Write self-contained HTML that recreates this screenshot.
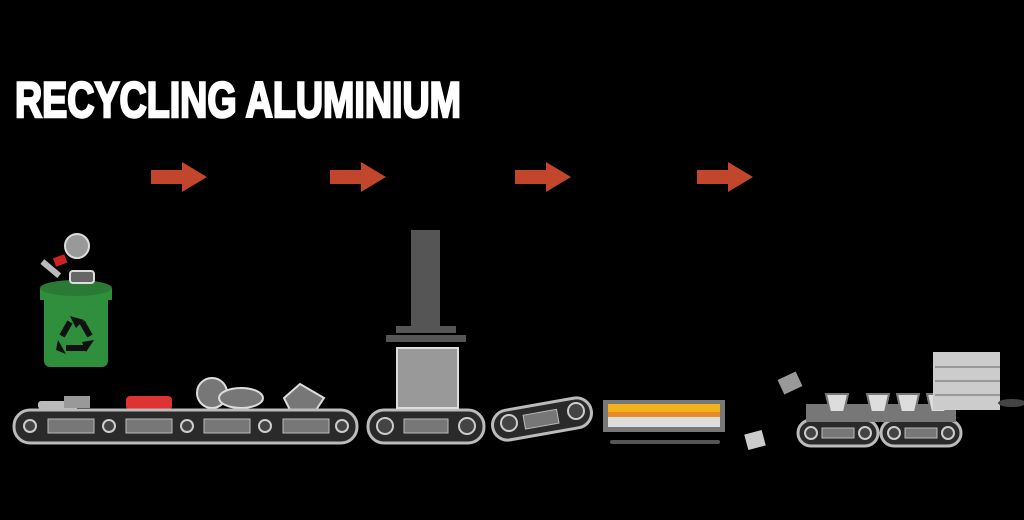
<!DOCTYPE html>
<html><head><style>
html,body{margin:0;padding:0;background:#000;width:1024px;height:520px;overflow:hidden}
</style></head><body>
<svg width="1024" height="520" viewBox="0 0 1024 520" xmlns="http://www.w3.org/2000/svg">
<rect width="1024" height="520" fill="#000"/>
<text x="15" y="117" font-family="Liberation Sans, sans-serif" font-weight="bold" font-size="50" fill="#fff" stroke="#fff" stroke-width="2.5" textLength="446" lengthAdjust="spacingAndGlyphs">RECYCLING ALUMINIUM</text>
<g fill="#c1462b">
<polygon points="151,170 182,170 182,162 207,177 182,192 182,184 151,184"/>
<polygon points="330,170 361,170 361,162 386,177 361,192 361,184 330,184"/>
<polygon points="515,170 546,170 546,162 571,177 546,192 546,184 515,184"/>
<polygon points="697,170 728,170 728,162 753,177 728,192 728,184 697,184"/>
</g>
<!-- bin -->
<rect x="44" y="295" width="64" height="72" rx="6" fill="#2f8f3c"/>
<rect x="40" y="288" width="72" height="12" fill="#2f8f3c"/>
<ellipse cx="76" cy="288" rx="36" ry="8" fill="#2a7a35"/>
<g fill="none" stroke="#111" stroke-width="6">
<path d="M70,322 L62,336"/><path d="M82,322 L90,336"/><path d="M66,348 L86,348"/>
</g>
<g fill="#111">
<polygon points="70,316 84,320 76,328"/><polygon points="94,340 86,352 82,342"/><polygon points="58,340 66,354 56,350"/>
</g>
<circle cx="77" cy="246" r="12" fill="#999" stroke="#ddd" stroke-width="2"/>
<rect x="54" y="256" width="12" height="9" fill="#c22" transform="rotate(-20 60 260)"/>
<rect x="40" y="265" width="22" height="6" fill="#bbb" transform="rotate(40 50 268)"/>
<rect x="70" y="271" width="24" height="12" rx="3" fill="#666" stroke="#ddd" stroke-width="2"/>
<!-- items on conveyor -->
<rect x="38" y="401" width="40" height="8" rx="3" fill="#bbb"/>
<rect x="64" y="396" width="26" height="12" fill="#999"/>
<rect x="126" y="396" width="46" height="14" rx="4" fill="#d33"/>
<circle cx="212" cy="393" r="15" fill="#777" stroke="#ddd" stroke-width="2"/>
<ellipse cx="241" cy="398" rx="22" ry="10" fill="#777" stroke="#ddd" stroke-width="2"/>
<polygon points="284,398 300,384 324,398 316,410 290,410" fill="#777" stroke="#ddd" stroke-width="2"/>
<!-- conveyors -->
<g fill="#2a2a2a" stroke="#bbb" stroke-width="3">
<rect x="14" y="410" width="343" height="33" rx="16"/>
<rect x="368" y="410" width="116" height="33" rx="16"/>
<rect x="492" y="404" width="100" height="30" rx="15" transform="rotate(-10 542 419)"/>
<rect x="798" y="420" width="80" height="26" rx="13"/>
<rect x="881" y="420" width="80" height="26" rx="13"/>
</g>
<g fill="#777" stroke="#bbb" stroke-width="1">
<rect x="48" y="419" width="46" height="14"/><rect x="126" y="419" width="46" height="14"/>
<rect x="204" y="419" width="46" height="14"/><rect x="283" y="419" width="46" height="14"/>
<rect x="404" y="419" width="44" height="14"/>
<rect x="524" y="412" width="34" height="14" transform="rotate(-10 542 419)"/>
<rect x="822" y="428" width="32" height="10"/><rect x="905" y="428" width="32" height="10"/>
</g>
<g fill="#444" stroke="#ccc" stroke-width="2">
<circle cx="30" cy="426" r="6"/><circle cx="109" cy="426" r="6"/><circle cx="187" cy="426" r="6"/>
<circle cx="265" cy="426" r="6"/><circle cx="342" cy="426" r="6"/>
<circle cx="385" cy="426" r="8"/><circle cx="467" cy="426" r="8"/>
<circle cx="509" cy="423" r="8"/><circle cx="576" cy="411" r="8"/>
<circle cx="811" cy="433" r="6"/><circle cx="865" cy="433" r="6"/>
<circle cx="894" cy="433" r="6"/><circle cx="948" cy="433" r="6"/>
</g>
<!-- press -->
<rect x="411" y="230" width="29" height="96" fill="#555"/>
<rect x="396" y="326" width="60" height="7" fill="#555"/>
<rect x="386" y="335" width="80" height="7" fill="#555"/>
<rect x="397" y="348" width="61" height="60" fill="#999" stroke="#ddd" stroke-width="2"/>
<!-- furnace tray -->
<rect x="603" y="400" width="122" height="32" fill="#777"/>
<rect x="608" y="404" width="112" height="8" fill="#f2b21d"/>
<rect x="608" y="412" width="112" height="5" fill="#e8892a"/>
<rect x="608" y="417" width="112" height="10" fill="#ddd"/>
<rect x="610" y="440" width="110" height="4" rx="2" fill="#555"/>
<rect x="746" y="432" width="18" height="16" fill="#ccc" transform="rotate(-15 755 440)"/>
<!-- molds -->
<rect x="780" y="375" width="20" height="16" fill="#999" transform="rotate(-25 790 383)"/>
<rect x="806" y="404" width="150" height="18" fill="#777"/>
<g fill="#ddd" stroke="#777" stroke-width="2">
<polygon points="826,394 848,394 844,412 830,412"/><polygon points="867,394 889,394 885,412 871,412"/>
<polygon points="897,394 919,394 915,412 901,412"/><polygon points="927,394 949,394 945,412 931,412"/>
</g>
<!-- ingot stack -->
<rect x="933" y="352" width="67" height="58" fill="#ccc"/>
<g stroke="#888" stroke-width="1.5"><line x1="935" y1="367" x2="1000" y2="367"/><line x1="935" y1="381" x2="1000" y2="381"/><line x1="935" y1="395" x2="1000" y2="395"/></g>
<ellipse cx="1012" cy="403" rx="14" ry="4" fill="#444"/>
</svg>
</body></html>
